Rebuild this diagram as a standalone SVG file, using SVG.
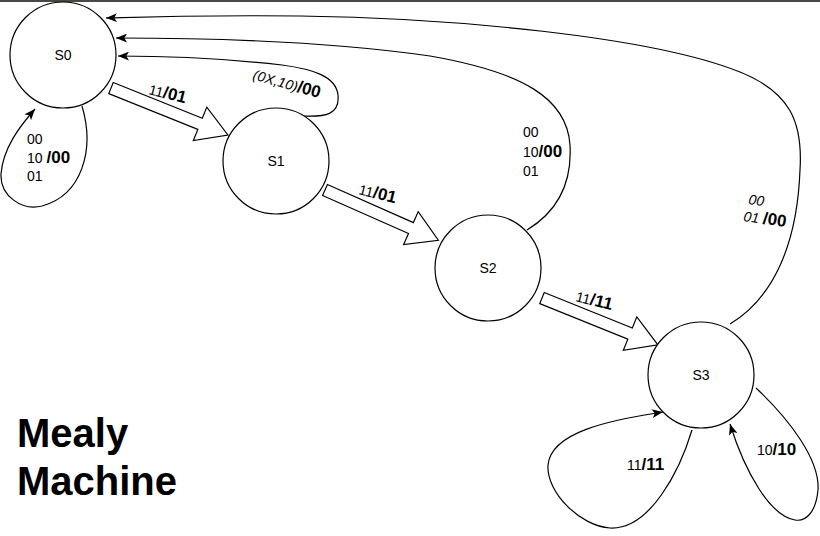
<svg xmlns="http://www.w3.org/2000/svg" width="820" height="536" viewBox="0 0 820 536">
<defs>
<style>
.st{fill:#fff;stroke:#000;stroke-width:1.2}
.ln{fill:none;stroke:#000;stroke-width:1.2}
.blk{fill:#fff;stroke:#000;stroke-width:1.2;stroke-linejoin:miter}
text{font-family:"Liberation Sans",Arial,sans-serif;fill:#000}
.nl{font-size:14px;text-anchor:middle}
.sm{font-size:14px}
.bd{font-size:17px;font-weight:bold}
.it{font-style:italic}
.title{font-size:40px;font-weight:bold}
</style>
<marker id="arr" viewBox="0 0 10 8" refX="10" refY="4" markerWidth="11" markerHeight="9" orient="auto" markerUnits="userSpaceOnUse">
<path d="M0,0 L10,4 L0,8 L2.5,4 Z" fill="#000"/>
</marker>
</defs>
<rect x="0" y="0" width="820" height="2" fill="#454a44"/>
<g id="connectors">
<path class="ln" d="M82,106 C95,150 82,195 42,206 C22,211 0,196 1,174 C3,148 20,126 35,109" marker-end="url(#arr)"/>
<path class="ln" d="M303,116 C325,117 340,115 338,95 C336,76 312,69 282,65 C220,58 160,56 118,56" marker-end="url(#arr)"/>
<path class="ln" d="M527,230 C560,210 572,180 570,145 C567,98 522,72 430,56 C320,40 200,38 116,38" marker-end="url(#arr)"/>
<path class="ln" d="M730,324 C770,300 797,250 800,170 C803,122 790,92 740,72 C650,36 450,18 300,16 C200,15 140,17 106,18" marker-end="url(#arr)"/>
<path class="ln" d="M692,430 C680,470 650,530 610,528 C580,526 546,492 548,465 C551,432 610,420 663,412" marker-end="url(#arr)"/>
<path class="ln" d="M756,388 C790,420 820,460 818,490 C816,512 806,522 795,520 C770,516 745,472 730,424" marker-end="url(#arr)"/>
<path class="blk" transform="translate(111,88) rotate(21.9)" d="M0,-6 L96,-6 L96,-18 L126,0 L96,18 L96,6 L0,6 Z"/>
<path class="blk" transform="translate(325,190) rotate(23.9)" d="M0,-6 L94,-6 L94,-18 L124,0 L94,18 L94,6 L0,6 Z"/>
<path class="blk" transform="translate(542,298) rotate(22)" d="M0,-6 L95,-6 L95,-18 L125,0 L95,18 L95,6 L0,6 Z"/>
</g>
<g id="S0"><circle class="st" cx="63" cy="55" r="53"/><text class="nl" x="63" y="60">S0</text></g>
<g id="S1"><circle class="st" cx="276" cy="161" r="53"/><text class="nl" x="276" y="166">S1</text></g>
<g id="S2"><circle class="st" cx="488" cy="268" r="53"/><text class="nl" x="488" y="273">S2</text></g>
<g id="S3"><circle class="st" cx="701" cy="375" r="53"/><text class="nl" x="701" y="380">S3</text></g>
<g id="labels">
<text class="sm" x="27" y="144">00</text>
<text x="27" y="163"><tspan class="sm">10 </tspan><tspan class="bd">/00</tspan></text>
<text class="sm" x="27" y="181">01</text>
<text transform="translate(148,94) rotate(14)"><tspan class="sm">11</tspan><tspan class="bd">/01</tspan></text>
<text transform="translate(358,194) rotate(14)"><tspan class="sm">11</tspan><tspan class="bd">/01</tspan></text>
<text transform="translate(575,301) rotate(14)"><tspan class="sm">11</tspan><tspan class="bd">/11</tspan></text>
<text transform="translate(252,79) rotate(16)"><tspan class="sm it">(0X,10)</tspan><tspan class="bd">/00</tspan></text>
<text class="sm" x="523" y="137">00</text>
<text x="523" y="157"><tspan class="sm">10</tspan><tspan class="bd">/00</tspan></text>
<text class="sm" x="523" y="176">01</text>
<text class="sm it" transform="translate(748,204) rotate(8)">00</text>
<text transform="translate(743,221) rotate(8)"><tspan class="sm it">01 </tspan><tspan class="bd">/00</tspan></text>
<text x="627" y="470"><tspan class="sm">11</tspan><tspan class="bd">/11</tspan></text>
<text x="757" y="455"><tspan class="sm">10</tspan><tspan class="bd">/10</tspan></text>
<text class="title" x="17" y="447">Mealy</text>
<text class="title" x="17" y="495">Machine</text>
</g>
</svg>
